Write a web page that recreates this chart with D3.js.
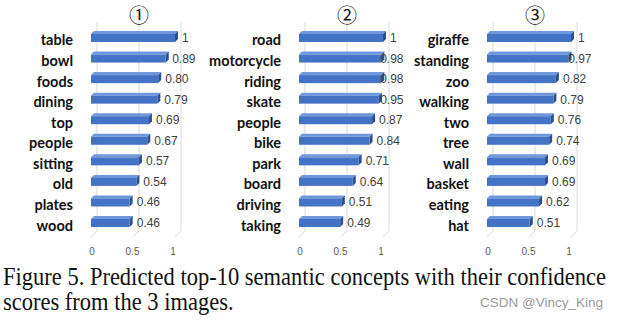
<!DOCTYPE html>
<html>
<head>
<meta charset="utf-8">
<script src="https://cdn.jsdelivr.net/npm/d3@7"></script>
<style>
  html, body { margin: 0; padding: 0; background: #fff; }
  svg { display: block; }
</style>
</head>
<body>
<svg id="chart" width="618" height="323"></svg>
<script>
// Top-10 semantic concepts and confidence scores for each of the 3 images
const panelMarks = ["①", "②", "③"];

const concepts1 = ["table", "bowl", "foods", "dining", "top", "people", "sitting", "old", "plates", "wood"];
const scores1   = [1, 0.89, 0.80, 0.79, 0.69, 0.67, 0.57, 0.54, 0.46, 0.46];
const labels1   = ["1", "0.89", "0.80", "0.79", "0.69", "0.67", "0.57", "0.54", "0.46", "0.46"];

const concepts2 = ["road", "motorcycle", "riding", "skate", "people", "bike", "park", "board", "driving", "taking"];
const scores2   = [1, 0.98, 0.98, 0.95, 0.87, 0.84, 0.71, 0.64, 0.51, 0.49];
const labels2   = ["1", "0.98", "0.98", "0.95", "0.87", "0.84", "0.71", "0.64", "0.51", "0.49"];

const concepts3 = ["giraffe", "standing", "zoo", "walking", "two", "tree", "wall", "basket", "eating", "hat"];
const scores3   = [1, 0.97, 0.82, 0.79, 0.76, 0.74, 0.69, 0.69, 0.62, 0.51];
const labels3   = ["1", "0.97", "0.82", "0.79", "0.76", "0.74", "0.69", "0.69", "0.62", "0.51"];

const tickValues = [0, 0.5, 1];
const tickLabels = ["0", "0.5", "1"];

const captionLines = [
  "Figure 5. Predicted top-10 semantic concepts with their confidence",
  "scores from the 3 images."
];
const watermark = "CSDN @Vincy_King";

const panels = [
  { mark: panelMarks[0], concepts: concepts1, scores: scores1, labels: labels1 },
  { mark: panelMarks[1], concepts: concepts2, scores: scores2, labels: labels2 },
  { mark: panelMarks[2], concepts: concepts3, scores: scores3, labels: labels3 }
];

// layout
const svg = d3.select("#chart");
const panelLeft = [91, 299, 487];   // front edge of the value axis origin
const axisLen = 84;                  // length of 0..1
const depth = 6;                     // 3D back-wall offset
const wallTop = 22, wallBottom = 231;
const barDepth = 3;
const labelLimit = 104.5;            // data labels kept inside the plot area

const colFront = "#4472c4", colTop = "#7097dc", colSide = "#2c4f8f";

panels.forEach((p, i) => {
  const x0 = panelLeft[i];
  const x = d3.scaleLinear().domain([0, 1]).range([x0, x0 + axisLen]);
  const y = d3.scaleBand().domain(p.concepts).range([29.7, 235.3]);
  const g = svg.append("g");

  // back-wall gridlines and floor edges
  g.selectAll("line.grid").data(tickValues).join("line")
    .attr("x1", d => x(d) + depth).attr("x2", d => x(d) + depth)
    .attr("y1", wallTop).attr("y2", wallBottom)
    .attr("stroke", "#d9d9d9").attr("stroke-width", 1);
  g.selectAll("line.floor").data(tickValues).join("line")
    .attr("x1", d => x(d) + depth).attr("x2", d => x(d))
    .attr("y1", wallBottom).attr("y2", wallBottom + depth)
    .attr("stroke", "#d9d9d9").attr("stroke-width", 1);

  // axis tick labels
  g.selectAll("text.tick").data(tickValues).join("text")
    .attr("x", d => x(d) + 1 - 3 * d)
    .attr("y", 252)
    .attr("text-anchor", "middle")
    .attr("dominant-baseline", "middle")
    .attr("font-family", "Liberation Sans, Arial, sans-serif")
    .attr("font-size", 10)
    .attr("fill", "#595959")
    .text((d, k) => tickLabels[k]);

  // panel marker
  g.append("text")
    .attr("x", x(0.5) + depth)
    .attr("y", 14)
    .attr("text-anchor", "middle")
    .attr("dominant-baseline", "central")
    .attr("font-family", "Noto Sans CJK SC, DejaVu Sans, sans-serif")
    .attr("font-size", 20)
    .attr("fill", "#111")
    .text(p.mark);

  const rows = p.concepts.map((c, k) => ({ c, v: p.scores[k], lab: p.labels[k] }));
  const cy = d => y(d.c) + y.bandwidth() / 2;

  const bar = g.selectAll("g.bar").data(rows).join("g");
  // top face
  bar.append("path")
    .attr("d", d => {
      const t = cy(d) - 6, x1 = x(d.v);
      return `M${x0},${t}L${x0 + barDepth},${t - barDepth}L${x1 + barDepth},${t - barDepth}L${x1},${t}Z`;
    })
    .attr("fill", colTop);
  // right face
  bar.append("path")
    .attr("d", d => {
      const t = cy(d) - 6, b = cy(d) + 2, x1 = x(d.v);
      return `M${x1},${t}L${x1 + barDepth},${t - barDepth}L${x1 + barDepth},${b - barDepth}L${x1},${b}Z`;
    })
    .attr("fill", colSide);
  // front face
  bar.append("rect")
    .attr("x", x0)
    .attr("y", d => cy(d) - 6)
    .attr("width", d => x(d.v) - x0)
    .attr("height", 8)
    .attr("fill", colFront);

  // category labels
  g.selectAll("text.cat").data(rows).join("text")
    .attr("x", x0 - 18)
    .attr("y", cy)
    .attr("text-anchor", "end")
    .attr("dominant-baseline", "central")
    .attr("font-family", "Lato, Liberation Sans, sans-serif")
    .attr("font-weight", "bold")
    .attr("font-size", 14.5)
    .attr("fill", "#111")
    .text(d => d.c);

  // value labels
  g.selectAll("text.val").data(rows).join("text")
    .attr("y", d => cy(d) - 2)
    .attr("dominant-baseline", "central")
    .attr("font-family", "Liberation Sans, Arial, sans-serif")
    .attr("font-size", 12)
    .attr("fill", "#404040")
    .text(d => d.lab)
    .each(function (d) {
      const w = this.getComputedTextLength();
      const px = Math.min(x(d.v) + 7, x0 + labelLimit - w);
      d3.select(this).attr("x", px);
    });
});

// caption (set slightly taller than wide, like the printed figure)
const capBaselines = [285, 309.5];
const capStretch = 1.12;
const cap = svg.append("g");
captionLines.forEach((line, k) => {
  cap.append("text")
    .attr("transform", `translate(3,${capBaselines[k]}) scale(1,${capStretch})`)
    .attr("font-family", "Liberation Serif, Times New Roman, serif")
    .attr("font-size", 20)
    .attr("fill", "#111")
    .text(line);
});
// fit the first caption line to the page width
const first = cap.select("text").node();
const fs = 20 * 603 / first.getComputedTextLength();
cap.selectAll("text").attr("font-size", fs);

svg.append("text")
  .attr("x", 603)
  .attr("y", 307)
  .attr("text-anchor", "end")
  .attr("font-family", "Liberation Sans, Arial, sans-serif")
  .attr("font-size", 13.5)
  .attr("fill", "#9a9a9a")
  .text(watermark);
</script>
</body>
</html>
